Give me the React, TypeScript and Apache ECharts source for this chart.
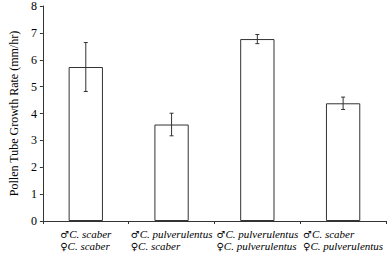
import React, { useEffect, useRef } from "react";
import * as echarts from "echarts";

const maleCross = ["C. scaber", "C. pulverulentus", "C. pulverulentus", "C. scaber"];
const femaleCross = ["C. scaber", "C. scaber", "C. pulverulentus", "C. pulverulentus"];
const means = [5.73, 3.59, 6.77, 4.38];
const errors = [0.91, 0.42, 0.17, 0.23];
const yTitle = "Pollen Tube Growth Rate (mm/hr)";

const FONT = "Liberation Serif";

export default function App() {
  const ref = useRef<HTMLDivElement>(null);
  useEffect(() => {
    if (!ref.current) return;
    const chart = echarts.init(ref.current, null, { renderer: "svg" });
    const categories = maleCross.map((m, i) => `${i}`);
    const errData = means.map((m, i) => [i, m - errors[i], m + errors[i]]);
    chart.setOption({
      animation: false,
      textStyle: { fontFamily: FONT },
      grid: { left: 32, right: 1, top: 5, bottom: 34, containLabel: false },
      xAxis: {
        type: "category",
        data: categories,
        axisLine: { lineStyle: { color: "#333", width: 1 } },
        axisTick: { show: true, length: 3, lineStyle: { color: "#333" } },
        axisLabel: {
          margin: 7,
          interval: 0,
          fontFamily: FONT,
          formatter: (v: string) => {
            const i = Number(v);
            return `{s|♂}{n|${maleCross[i]}}\n{s|♀}{n|${femaleCross[i]}}`;
          },
          rich: {
            s: { fontFamily: "DejaVu Sans", fontSize: 10, color: "#000", align: "left", lineHeight: 12 },
            n: { fontFamily: FONT, fontSize: 11, fontStyle: "italic", color: "#000", align: "left", lineHeight: 12 },
          },
        },
      },
      yAxis: {
        type: "value",
        min: 0,
        max: 8,
        interval: 1,
        name: yTitle,
        nameLocation: "middle",
        nameGap: 18,
        nameTextStyle: { fontFamily: FONT, fontSize: 12, color: "#000" },
        axisLine: { show: true, lineStyle: { color: "#333", width: 1 } },
        axisTick: { show: true, length: 3, lineStyle: { color: "#333" } },
        axisLabel: { fontFamily: FONT, fontSize: 12, color: "#000", margin: 6 },
        splitLine: { show: false },
      },
      series: [
        {
          type: "bar",
          data: means,
          barWidth: "40%",
          itemStyle: { color: "#fff", borderColor: "#333", borderWidth: 1 },
        },
        {
          type: "custom",
          data: errData,
          z: 5,
          renderItem: (params: any, api: any) => {
            const x = api.value(0);
            const lo = api.coord([x, api.value(1)]);
            const hi = api.coord([x, api.value(2)]);
            const cap = 2;
            const style = { stroke: "#333", lineWidth: 1 };
            return {
              type: "group",
              children: [
                { type: "line", shape: { x1: lo[0], y1: lo[1], x2: hi[0], y2: hi[1] }, style },
                { type: "line", shape: { x1: lo[0] - cap, y1: lo[1], x2: lo[0] + cap, y2: lo[1] }, style },
                { type: "line", shape: { x1: hi[0] - cap, y1: hi[1], x2: hi[0] + cap, y2: hi[1] }, style },
              ],
            };
          },
        },
      ],
    });
    return () => chart.dispose();
  }, []);
  return <div ref={ref} style={{ width: 387, height: 255, position: "absolute", left: 0, top: 0 }} />;
}
